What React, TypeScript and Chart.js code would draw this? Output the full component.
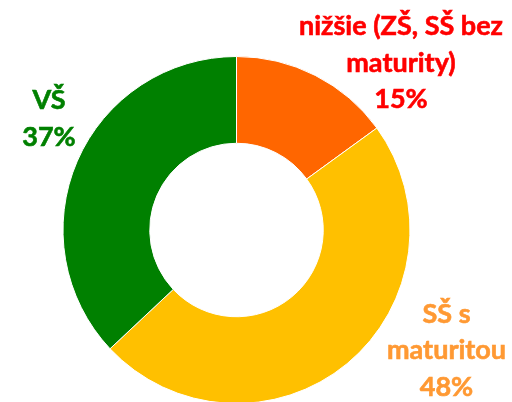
import React, { useEffect, useRef } from "react";
import { Chart, registerables } from "chart.js";

Chart.register(...registerables);

const categories = ["nižšie (ZŠ, SŠ bez maturity)", "SŠ s maturitou", "VŠ"];
const values = [15, 48, 37];
const labelLines = [
  ["nižšie (ZŠ, SŠ bez", "maturity)", "15%"],
  ["SŠ s", "maturitou", "48%"],
  ["VŠ", "37%"],
];
const segmentColors = ["#FF6600", "#FFC000", "#008000"];
const labelColors = ["#FF0000", "#FF9933", "#008000"];
// label anchor (center x, first baseline) relative to the doughnut center, in px
const labelOffsets = [
  [164.5, -194.8],
  [210, 92.5],
  [-187.5, -120.8],
];

const labelPlugin = {
  id: "sliceLabels",
  afterDraw(chart: any) {
    const ctx = chart.ctx;
    const meta = chart.getDatasetMeta(0);
    ctx.save();
    ctx.font = "bold 27px Lato, 'Open Sans', sans-serif";
    ctx.textAlign = "center";
    ctx.textBaseline = "alphabetic";
    meta.data.forEach((arc: any, i: number) => {
      const cx = arc.x + labelOffsets[i][0];
      const cy = arc.y + labelOffsets[i][1];
      ctx.fillStyle = labelColors[i];
      ctx.strokeStyle = labelColors[i];
      ctx.lineWidth = 0.6;
      labelLines[i].forEach((line: string, j: number) => {
        ctx.fillText(line, cx, cy + j * 36.5);
        ctx.strokeText(line, cx, cy + j * 36.5);
      });
    });
    ctx.restore();
  },
};

export default function App() {
  const ref = useRef<HTMLCanvasElement>(null);
  useEffect(() => {
    document.body.style.margin = "0";
    const chart = new Chart(ref.current!, {
      type: "doughnut",
      data: {
        labels: categories,
        datasets: [
          {
            data: values,
            backgroundColor: segmentColors,
            borderColor: "#ffffff",
            borderWidth: 1,
          },
        ],
      },
      options: {
        animation: false,
        responsive: false,
        cutout: "50%",
        layout: { padding: { left: 62, right: 101, top: 56, bottom: 16 } },
        plugins: {
          legend: { display: false },
          tooltip: { enabled: false },
        },
      },
      plugins: [labelPlugin],
    });
    return () => chart.destroy();
  }, []);
  return (
    <div style={{ position: "absolute", left: 0, top: 0, width: 512, height: 402, overflow: "hidden", background: "#fff" }}>
      <canvas ref={ref} width={512} height={420} style={{ width: 512, height: 420, display: "block" }} />
    </div>
  );
}
